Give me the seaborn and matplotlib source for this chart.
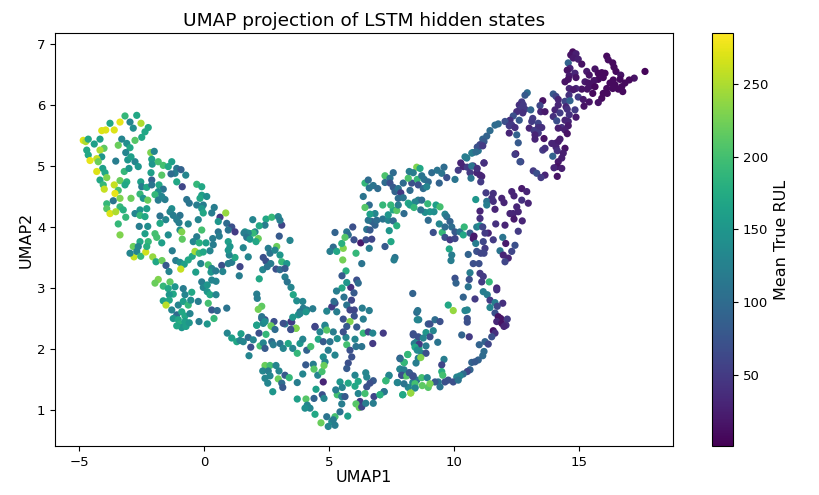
# UMAP projection of the LSTM hidden states
import pandas as pd
import numpy as np
import matplotlib
matplotlib.use("Agg")
import matplotlib.pyplot as plt
import seaborn as sns

# each row: UMAP1, UMAP2, mean true RUL
left_arm = [
    (-4.83,5.42,270),(-4.73,5.40,250),(-4.63,5.44,170),(-4.39,5.36,160),(-4.16,5.44,160),(-4.09,5.58,270),(-3.93,5.59,270),(-3.59,5.59,270),
    (-3.76,5.70,170),(-3.36,5.72,275),(-3.16,5.82,190),(-2.69,5.83,170),(-2.96,5.72,130),(-2.52,5.70,250),(-2.23,5.63,170),(-2.83,5.62,140),
    (-2.36,5.56,170),(-2.49,5.47,170),(-2.76,5.42,210),(-3.29,5.44,130),(-3.09,5.37,140),(-3.43,5.34,220),(-2.96,5.30,170),(-3.13,5.22,130),
    (-4.0,5.29,215),(-4.16,5.26,250),(-4.69,5.26,170),(-4.63,5.18,170),(-4.09,5.15,150),(-4.29,5.12,260),(-4.56,5.09,275),(-4.23,5.07,220),
    (-3.53,5.08,120),(-3.05,5.10,150),(-2.76,5.07,130),(-2.92,5.15,160),(-2.13,5.22,230),(-1.99,5.24,130),(-2.09,5.11,160),(-2.07,5.03,150),
    (-1.83,5.07,200),(-1.63,5.01,200),(-1.29,5.07,160),(-1.43,4.99,170),(-1.09,4.96,110),(-0.92,4.94,90),(-1.16,4.88,120),(-1.32,4.87,100),
    (-2.63,4.99,150),(-4.05,4.96,160),(-4.29,4.91,270),(-3.96,4.89,170),(-3.19,4.91,190),(-3.0,4.96,150),(-2.12,4.89,160),(-1.69,4.85,210),
    (-2.09,4.77,90),(-1.09,4.74,170),(-0.73,4.85,130),(-4.16,4.77,170),(-3.89,4.81,230),(-4.03,4.69,190),(-3.36,4.76,220),(-3.09,4.74,180),
    (-3.16,4.69,170),(-2.53,4.74,160),(-2.49,4.66,120),(-2.29,4.65,170),(-2.09,4.69,110),(-1.80,4.69,170),(-1.63,4.62,110),(-0.87,4.66,60),
    (-0.29,4.70,190),(-0.09,4.66,170),(-3.99,4.62,260),(-3.59,4.69,260),(-3.43,4.60,200),(-3.56,4.55,275),(-1.83,4.58,140),(-1.96,4.53,190),
    (-2.56,4.54,190),(-2.43,4.47,150),(-2.25,4.44,220),(-0.09,4.52,160),(-0.16,4.47,170),(0.11,4.50,140),(-3.36,4.47,230),(-2.92,4.47,220),
    (-3.63,4.43,110),(-3.89,4.38,190),(-3.36,4.33,190),(-3.23,4.28,180),(-3.89,4.30,210),(-3.76,4.22,270),(-3.53,4.25,250),(-3.13,4.16,190),
    (-1.56,4.45,120),(-1.83,4.44,120),(-1.69,4.50,130),(-0.69,4.45,110),(-0.59,4.39,110),(-0.29,4.36,120),(-0.03,4.36,120),(0.41,4.32,120),
    (-0.09,4.30,150),(-1.29,4.30,140),(-1.36,4.25,130),(-1.23,4.19,120),(-2.29,4.30,160),(-2.56,4.28,150),(-2.76,4.22,130),(-2.56,4.19,190),
    (-2.36,4.17,170),(-1.76,4.18,110),(-1.53,4.12,130),(-0.96,4.19,110),(-1.09,4.12,120),(-1.0,4.07,120),(-0.03,4.23,170),(0.31,4.23,120),
    (0.64,4.16,50),(0.87,4.23,240),(-0.23,4.12,130),(-3.43,4.05,190),(-2.59,4.01,120),(-2.25,4.01,140),(-1.76,4.06,170),(-0.63,4.05,130),
    (-0.96,3.95,140),(-0.09,3.95,200),(0.57,4.09,150),(0.91,4.06,100),(1.11,4.0,70),(0.97,3.95,110),(1.24,3.92,50),(1.64,3.92,150),
    (-3.36,3.87,230),(-2.36,3.89,160),(-1.96,3.89,200),(-1.43,3.87,140),(-0.29,3.84,120),(0.57,3.92,110),(1.84,3.89,120),(2.04,3.92,130),
]

lower_left = [
    (2.48,4.13,170),(2.71,4.16,190),(2.97,4.17,130),(3.11,4.03,60),(3.04,4.11,120),(2.44,4.03,120),(2.21,4.02,170),(2.17,3.81,220),
    (1.97,3.90,190),(1.95,4.12,130),(3.01,3.85,80),(1.77,3.90,130),(1.60,3.90,120),(1.71,3.83,110),(1.84,3.80,150),(2.08,3.76,170),
    (0.97,3.76,160),(1.04,3.68,150),(1.57,3.66,130),(0.61,3.85,120),(0.35,3.81,120),(0.37,3.71,120),(0.08,3.74,160),(-0.43,3.76,130),
    (-0.19,3.74,180),(-0.89,3.92,230),(-0.87,3.80,215),(-1.69,3.74,160),(-2.56,3.76,170),(-2.23,3.76,190),(-1.89,3.83,200),
    (-2.83,3.68,220),(-2.63,3.68,130),(-2.80,3.51,260),(-2.96,3.57,130),(-2.69,3.60,130),(-2.53,3.52,190),(-2.33,3.59,265),(-2.29,3.68,180),
    (-2.05,3.51,240),(-1.92,3.43,170),(-1.68,3.45,220),(-1.52,3.37,80),(-1.27,3.61,120),(-1.13,3.45,120),(-0.96,3.42,140),(-0.79,3.39,160),
    (-0.63,3.46,170),(-0.47,3.52,170),(-0.36,3.60,245),(-0.19,3.57,190),(-0.03,3.59,170),(0.24,3.61,130),(-0.93,3.31,260),(-1.40,3.27,130),
    (-0.33,3.26,160),(-0.13,3.40,130),(0.17,3.38,200),(0.31,3.32,130),(0.28,3.26,150),(0.47,3.28,120),(0.71,3.37,70),(0.75,3.27,130),
    (0.97,3.40,120),(1.11,3.42,120),(1.24,3.50,170),(1.01,3.54,130),(0.97,3.62,150),(1.44,3.35,60),(1.41,3.20,120),(1.77,3.51,130),
    (2.37,3.50,70),(2.57,3.65,120),(2.64,3.57,110),(2.91,3.68,220),(2.84,3.62,130),(3.04,3.54,150),(3.11,3.43,190),(3.31,3.40,150),
    (2.48,3.44,70),(2.67,3.40,120),(2.35,3.30,130),(2.53,3.35,110),(2.88,3.31,70),(3.04,3.30,100),(3.24,3.32,80),(3.44,3.78,130),
    (2.21,3.15,170),(3.24,3.18,120),(3.33,3.10,110),(3.48,3.01,130),(3.57,2.89,170),(3.71,2.79,140),(3.95,2.78,130),(3.97,2.67,120),
    (3.84,2.61,110),(4.11,2.64,120),(4.35,2.66,120),(3.77,2.56,150),(2.11,2.90,120),(2.13,2.83,120),(2.31,2.70,215),(2.17,2.65,225),
    (2.31,2.50,90),(2.44,2.48,70),(2.11,2.39,160),(2.37,2.42,130),(2.71,2.37,230),(2.80,2.45,70),(3.24,2.41,120),(3.51,2.44,70),
    (3.48,2.32,70),(3.68,2.34,220),(4.44,2.36,60),(4.84,2.37,140),(0.91,2.67,110),(0.17,2.75,200),(0.31,2.64,80),(0.53,2.63,100),
    (0.40,2.50,190),(0.13,2.41,150),(-0.20,2.45,120),(-0.09,3.10,120),(-0.03,3.01,130),(0.13,3.05,150),(0.13,2.94,150),(0.31,3.13,130),
    (0.48,3.11,130),(0.24,2.89,170),(0.48,2.89,130),(-1.36,3.10,215),(-1.16,3.02,150),(-1.83,3.14,230),(-1.96,3.08,220),(-1.63,3.03,190),
    (-1.43,2.99,170),(-0.83,2.99,120),(-0.49,2.93,170),(-1.23,2.90,170),(-0.76,2.89,130),(-1.39,2.89,150),(-1.63,2.79,160),(-1.39,2.80,170),
    (-1.52,2.72,255),(-1.03,2.72,130),(-0.83,2.78,160),(-0.63,2.72,190),(-0.53,2.80,140),(-0.23,2.78,120),(-1.29,2.64,130),(-1.09,2.56,100),
    (-0.89,2.61,170),(-1.23,2.50,150),(-1.03,2.48,170),(-0.76,2.54,170),(-0.56,2.58,130),(-0.96,2.41,180),(-0.76,2.45,160),(-0.89,2.35,150),
    (-0.72,2.37,160),(-1.09,2.38,170),(-0.59,2.43,150),
]

bottom_band = [
    (2.31,2.53,110),(2.44,2.45,140),(2.11,2.39,160),(2.68,2.38,220),(2.84,2.32,100),(3.17,2.42,70),(3.48,2.45,50),(3.68,2.34,230),
    (3.47,2.32,70),(3.84,2.58,130),(4.08,2.61,150),(3.55,2.52,150),(4.44,2.37,60),(4.84,2.39,130),(4.64,2.28,130),(5.17,2.28,120),
    (4.91,2.31,210),(0.93,2.26,130),(1.11,2.18,160),(1.31,2.12,170),(1.48,2.25,160),(1.44,2.14,130),(1.57,2.12,130),(1.77,2.19,100),
    (1.97,2.15,130),(2.20,2.26,70),(2.48,2.24,190),(1.87,2.03,70),(1.80,1.89,130),(2.24,2.05,200),(2.37,2.10,130),(2.44,2.01,80),
    (2.71,2.12,100),(2.77,2.07,120),(3.04,2.09,110),(3.17,2.01,130),(3.37,2.09,170),(3.55,2.01,130),(3.73,1.93,190),(3.84,2.09,150),
    (3.95,2.16,130),(4.11,1.98,90),(4.27,2.04,200),(4.57,2.16,170),(4.77,2.12,80),(4.97,1.98,120),(4.77,1.87,140),(4.84,1.79,130),
    (5.24,1.90,130),(5.04,2.12,110),(5.33,2.17,140),(5.68,2.19,130),(5.71,2.07,200),(5.84,1.98,70),(6.04,2.16,130),(6.08,2.04,110),
    (6.31,2.04,110),(5.91,1.87,70),(5.77,1.77,70),(5.71,1.68,80),(6.37,2.26,190),(6.57,2.28,60),(6.75,2.26,130),(6.75,2.09,50),
    (7.17,2.26,50),(2.44,1.73,220),(2.64,1.73,200),(2.88,1.73,130),(2.35,1.64,130),(2.57,1.64,120),(3.0,1.64,130),(3.24,1.57,80),
    (2.64,1.56,130),(2.44,1.52,130),(2.55,1.44,130),(2.97,1.51,220),(3.41,1.53,190),(3.11,1.44,100),(3.15,1.37,80),(2.75,1.30,150),
    (3.73,1.45,120),(4.07,1.74,80),(4.37,1.75,120),(4.40,1.67,210),(3.95,1.59,130),(4.55,1.57,130),(4.72,1.63,200),(4.80,1.73,220),
    (4.77,1.46,30),(4.48,1.34,160),(3.73,1.18,160),(4.08,1.18,210),(4.40,1.19,90),(4.73,1.25,70),(4.80,1.19,130),(4.13,1.08,130),
    (4.24,1.03,130),(4.04,1.03,140),(4.44,0.93,170),(4.68,0.79,220),(4.91,0.89,110),(5.24,0.89,200),(5.11,0.81,140),(4.97,0.73,130),
    (5.24,0.75,120),(5.17,0.84,120),(5.75,0.90,160),(5.33,1.25,200),(5.51,1.10,120),(5.44,0.97,110),(5.51,1.22,130),(5.27,1.33,120),
    (5.44,1.46,150),(5.53,1.37,130),(5.64,1.22,80),(5.77,1.44,170),(6.04,1.57,130),(6.04,1.39,170),(6.17,1.47,170),(6.47,1.61,130),
    (6.51,1.54,130),(6.77,1.48,80),(6.64,1.44,70),(6.51,1.38,70),(6.17,1.27,130),(6.44,1.27,200),(6.80,1.22,60),(7.04,1.25,180),
    (7.21,1.30,130),(7.27,1.48,200),(7.40,1.56,130),(6.24,1.14,50),(6.08,1.10,210),(6.21,1.04,220),(6.31,1.05,60),(6.47,1.11,120),
    (6.77,1.11,120),(7.75,1.45,120),(7.95,1.25,180),(8.27,1.28,240),(8.44,1.37,130),(8.17,1.37,130),(8.35,1.45,130),(8.51,1.49,110),
    (7.84,1.85,70),(8.01,1.78,170),(8.15,1.91,190),(7.84,1.67,120),(7.91,1.57,70),(8.04,1.56,210),(8.21,1.61,70),(8.37,1.56,70),
    (8.57,1.85,120),(8.51,2.12,150),(8.37,2.25,70),(8.51,2.60,100),(8.59,2.48,120),(8.60,2.01,170),(5.24,2.75,70),(5.11,2.69,50),
    (5.31,2.61,120),(5.71,2.72,110),(5.84,2.64,60),(6.01,2.64,60),(6.01,2.54,70),(5.57,2.49,70),(5.84,2.45,230),(6.37,2.49,120),
    (6.61,2.63,120),(6.33,2.67,120),(5.71,2.37,80),(5.57,2.28,70),(6.11,2.36,80),(4.91,2.62,130),
]

middle_arch = [
    (5.24,3.91,90),(5.71,3.92,110),(5.77,3.87,100),(5.95,4.0,70),(5.17,3.67,100),(5.04,3.60,120),(5.31,3.60,170),(5.57,3.65,230),
    (5.51,3.73,180),(5.64,3.83,210),(6.0,3.79,70),(6.27,3.74,20),(6.48,3.79,70),(6.71,3.80,60),(6.61,3.65,120),(6.08,3.57,190),
    (5.55,3.46,225),(5.68,3.28,180),(5.52,3.20,80),(6.31,3.40,110),(7.24,3.68,80),(7.64,3.50,110),(7.60,3.46,120),(7.48,3.76,170),
    (6.51,3.96,110),(6.84,4.03,90),(6.64,3.95,80),(6.71,4.09,90),(6.91,4.11,100),(6.57,4.11,110),(7.15,4.13,110),(7.37,4.11,130),
    (7.57,4.10,100),(7.41,3.94,150),(7.71,4.02,180),(7.37,4.20,150),(7.57,4.28,170),(7.71,4.27,210),(7.77,4.36,120),(8.0,4.22,100),
    (6.84,4.22,130),(6.64,4.21,160),(6.61,4.36,100),(7.15,4.36,190),(6.44,4.32,210),(7.47,4.36,190),(6.37,4.50,110),(6.44,4.72,190),
    (6.57,4.77,100),(6.61,4.64,110),(6.77,4.68,110),(6.95,4.63,100),(7.24,4.84,205),(7.57,4.89,100),(7.44,4.80,110),(7.24,4.73,100),
    (7.44,4.72,70),(7.57,4.65,80),(7.64,4.58,90),(7.77,4.63,110),(7.87,4.56,50),(7.97,4.72,100),(7.77,4.47,100),(7.97,4.48,110),
    (8.24,4.60,100),(8.31,4.72,70),(8.17,4.80,205),(8.21,4.91,120),(8.51,4.98,230),(8.64,4.96,170),(8.37,4.89,120),(8.53,4.78,190),
    (8.71,4.84,110),(8.81,4.78,110),(8.57,4.69,70),(8.77,4.63,100),(8.97,4.74,100),(9.11,4.89,100),(9.33,4.93,110),(9.60,4.98,100),
    (9.51,4.88,110),(9.71,4.81,70),(10.04,4.78,110),(9.41,4.72,90),(8.91,4.66,130),(8.57,4.44,120),(8.71,4.44,100),(8.44,4.41,130),
    (8.17,4.39,170),(8.24,4.36,160),(8.40,4.32,190),(8.95,4.38,190),(9.28,4.36,160),(9.44,4.33,200),(9.04,4.25,150),(9.20,4.25,140),
    (8.84,4.24,140),(8.67,4.28,110),(8.97,4.11,100),(9.64,4.21,130),(9.71,4.17,110),(9.41,4.05,130),(9.17,3.91,70),(9.53,3.91,190),
    (9.64,4.0,100),(9.84,4.09,90),(9.91,4.0,100),(10.04,3.92,80),(9.64,3.83,70),(9.84,3.79,50),(10.04,3.81,60),(10.24,3.92,110),
    (10.37,3.87,170),(10.41,4.0,190),(10.64,3.90,80),(10.80,3.85,20),(10.77,3.81,20),(10.91,4.0,120),(11.04,4.02,140),(11.15,4.0,60),
    (11.37,3.90,30),(11.24,3.90,50),(11.57,3.79,50),(11.95,3.83,110),(10.87,3.73,120),(11.17,3.76,60),(12.07,3.73,20),(9.81,3.64,170),
    (9.91,3.54,120),(9.88,3.45,120),(10.57,3.55,90),(10.91,3.60,70),(11.24,3.65,50),(11.07,3.57,60),(11.2,3.57,60),(11.84,3.61,110),
    (12.31,3.60,60),(12.44,3.70,70),(12.57,3.93,50),(11.97,3.54,30),(12.17,3.49,30),(12.04,3.43,60),(10.77,3.40,70),(11.0,3.40,70),
    (10.64,3.25,120),(11.04,3.24,50),(11.17,3.19,50),(10.04,3.16,70),(10.08,3.08,90),(11.41,3.10,190),(10.57,3.02,110),(11.71,3.0,30),
    (11.11,3.10,50),(10.17,4.93,50),(10.27,5.05,30),(10.37,4.99,30),(10.51,5.13,120),(10.44,5.15,120),(10.75,5.22,120),(10.97,5.25,110),
    (10.53,4.98,50),(10.77,5.0,40),(11.2,5.05,30),(10.64,4.89,50),(10.91,4.89,30),(11.11,4.83,30),(11.07,4.74,50),(10.68,4.80,110),
    (10.87,4.45,150),(11.28,4.56,50),(11.57,4.55,40),(11.51,4.47,40),(11.31,4.42,110),(11.31,4.36,120),(11.57,4.42,40),(11.91,4.47,30),
    (12.0,4.40,30),(12.31,4.58,30),(12.40,4.51,30),(12.71,4.63,20),(12.71,4.44,40),(12.91,4.58,30),(12.97,4.39,30),(12.51,4.33,30),
    (12.57,4.25,30),(12.37,4.22,30),(12.24,4.22,30),(11.64,4.29,30),(11.04,4.26,30),(11.04,4.14,40),(11.67,4.05,40),(12.04,4.03,30),
    (12.40,4.13,20),(12.73,4.10,30),(12.47,5.20,15),(12.67,5.07,50),(6.11,3.13,70),(5.87,3.01,40),(5.52,3.0,170),(5.71,3.09,150),
    (6.17,3.08,100),(5.3,2.95,120),(5.6,2.85,110),(5.2,2.78,100),(5.9,2.80,60),(6.0,2.92,80),
]

right_loop = [
    (10.61,3.14,70),(11.71,2.97,40),(8.35,2.91,90),(11.17,2.94,120),(11.33,2.89,120),(10.37,2.85,90),(10.84,2.82,50),(11.44,2.80,50),
    (11.64,2.76,120),(11.95,2.75,40),(11.73,2.70,60),(9.77,2.72,170),(9.97,2.63,240),(10.53,2.64,130),(10.44,2.63,130),(11.44,2.68,130),
    (8.55,2.63,110),(11.64,2.59,70),(11.77,2.53,15),(11.87,2.50,15),(12.13,2.49,50),(11.71,2.45,30),(11.91,2.42,15),(12.08,2.39,40),
    (12.0,2.37,30),(8.53,2.48,130),(10.53,2.50,70),(10.53,2.44,70),(8.97,2.41,80),(9.04,2.41,70),(9.24,2.48,100),(9.44,2.45,70),
    (9.17,2.30,130),(8.88,2.27,150),(11.57,2.30,15),(11.64,2.26,40),(11.51,2.20,70),(10.31,2.23,90),(10.61,2.20,50),(9.04,2.20,70),
    (8.37,2.23,70),(8.57,2.20,70),(8.77,2.18,130),(9.35,2.11,110),(8.41,2.09,120),(8.61,2.08,50),(8.44,2.03,170),(8.53,1.98,140),
    (8.88,2.05,120),(8.71,1.93,130),(8.88,1.93,70),(8.67,1.86,230),(11.24,2.12,90),(11.37,2.08,60),(11.01,2.07,90),(11.20,1.96,100),
    (11.15,1.89,100),(10.97,1.82,90),(10.71,1.78,90),(10.84,1.79,80),(8.15,1.91,190),(8.0,1.78,190),(7.84,1.84,100),(8.48,1.77,120),
    (9.60,1.83,120),(9.51,1.74,60),(9.51,1.63,180),(9.55,1.57,200),(10.64,1.66,90),(10.53,1.63,60),(10.37,1.59,100),(10.24,1.56,130),
    (10.11,1.54,130),(9.97,1.46,70),(9.77,1.49,70),(9.64,1.46,70),(9.37,1.46,110),(9.24,1.46,80),(9.44,1.38,110),(10.17,1.49,110),
    (7.84,1.67,130),(8.0,1.66,120),(7.40,1.57,130),(7.91,1.57,70),(8.11,1.56,210),(8.21,1.61,80),(8.35,1.55,70),(8.71,1.53,200),
    (8.93,1.53,130),(7.28,1.48,190),(7.73,1.45,130),(8.0,1.43,110),(8.73,1.40,215),(8.97,1.37,210),(9.04,1.43,225),(8.44,1.43,200),
    (8.44,1.36,130),(8.27,1.28,240),(7.95,1.25,170),(7.2,1.30,110),(7.04,1.25,180),
]

top_right = [
    (14.75,6.87,10),(14.67,6.82,15),(14.88,6.84,25),(14.77,6.77,20),(14.97,6.75,25),(15.11,6.67,15),(14.57,6.69,90),(14.64,6.60,30),
    (14.53,6.57,15),(14.61,6.48,20),(14.84,6.52,30),(14.88,6.45,15),(14.44,6.38,15),(14.57,6.42,15),(16.11,6.80,8),(16.17,6.74,10),
    (16.35,6.69,8),(16.40,6.62,8),(16.48,6.55,8),(16.67,6.49,15),(16.64,6.42,8),(17.64,6.55,5),(17.21,6.44,15),(17.01,6.41,8),
    (16.84,6.36,8),(16.71,6.30,8),(16.75,6.22,8),(16.57,6.26,8),(16.37,6.41,8),(16.24,6.36,8),(16.44,6.33,8),(16.35,6.27,8),
    (16.11,6.27,8),(15.97,6.19,8),(15.91,6.11,8),(15.77,6.04,15),(16.13,6.19,8),(15.64,6.59,15),(15.77,6.52,8),(15.91,6.53,8),
    (16.04,6.52,8),(15.97,6.45,8),(15.77,6.42,8),(15.31,6.55,20),(15.41,6.49,15),(15.24,6.38,20),(15.60,6.40,15),(15.47,6.31,15),
    (15.37,6.36,15),(15.64,6.30,8),(15.55,6.19,8),(15.33,6.26,15),(15.11,6.26,15),(14.88,6.27,30),(14.61,6.27,30),(14.77,6.25,20),
    (14.60,6.16,40),(14.97,6.13,50),(15.17,6.09,20),(15.41,6.05,15),(15.20,5.98,15),(13.97,6.18,80),(14.08,6.14,60),(14.17,6.09,30),
    (14.44,6.06,60),(14.64,6.07,90),(13.55,6.07,15),(14.17,6.0,30),(14.48,5.97,30),(14.53,5.93,40),(13.44,5.99,60),(14.84,5.92,50),
    (13.47,5.89,30),(13.64,5.89,20),(14.04,5.92,30),(14.24,5.87,50),(14.61,5.84,40),(14.88,5.80,20),(14.44,5.75,30),(14.57,5.73,30),
    (13.15,5.78,50),(13.97,5.81,40),(14.11,5.74,70),(14.31,5.63,40),(14.17,5.62,25),(14.57,5.66,20),(14.44,5.59,25),(14.53,5.53,15),
    (13.11,5.73,50),(13.37,5.70,60),(13.01,5.62,30),(13.37,5.63,40),(13.20,5.58,50),(13.51,5.63,40),(13.37,5.54,50),(13.24,5.51,30),
    (13.24,5.44,30),(13.60,5.45,15),(14.04,5.37,30),(14.24,5.44,25),(14.17,5.40,25),(13.91,5.37,30),(14.08,5.31,30),(14.13,5.25,40),
    (14.44,5.29,15),(13.55,5.26,50),(13.64,5.29,40),(12.44,5.19,50),(12.64,5.07,70),(13.95,5.16,90),(14.37,5.21,25),(14.31,5.13,25),
    (14.17,5.07,20),(14.13,4.99,15),(14.0,4.97,30),(14.31,4.96,25),(13.17,4.92,50),(13.31,4.88,70),(13.64,4.85,30),(14.13,4.83,15),
    (13.48,4.81,50),(12.93,6.20,100),(12.84,6.16,80),(12.71,6.05,50),(12.61,6.0,40),(12.77,6.0,50),(12.64,5.93,50),(12.84,5.93,50),
    (12.51,5.89,40),(12.75,5.87,40),(13.07,5.92,90),(12.37,5.82,70),(12.61,5.75,80),(12.24,5.75,40),(12.04,5.73,70),(11.77,5.69,100),
    (11.64,5.67,100),(12.21,5.66,50),(12.31,5.67,50),(12.44,5.63,40),(12.21,5.54,30),(12.51,5.51,90),(12.57,5.38,80),(11.44,5.58,100),
    (11.31,5.49,90),(11.15,5.44,90),(11.2,5.40,80),(11.04,5.35,60),(10.93,5.31,70),(11.15,5.33,50),(10.71,5.21,120),(10.88,5.23,100),
    (11.2,5.05,40),(10.71,5.0,110),(10.93,4.96,40),(11.04,4.85,30),
]

x_ticks = [-5, 0, 5, 10, 15]
y_ticks = [1, 2, 3, 4, 5, 6, 7]
cbar_ticks = [50, 100, 150, 200, 250]

rows = left_arm + lower_left + bottom_band + middle_arch + right_loop + top_right
df = pd.DataFrame(rows, columns=["UMAP1", "UMAP2", "rul"])

fig = plt.figure(figsize=(8.2, 4.95), dpi=100)
ax = fig.add_axes([55/820, 1-446/495, 618/820, 413/495])
cax = fig.add_axes([712.5/820, 1-446/495, 20.5/820, 413/495])

norm = plt.Normalize(1, 285)
sns.scatterplot(data=df, x="UMAP1", y="UMAP2", hue="rul", palette="viridis", hue_norm=norm,
                s=27, linewidth=0, legend=False, ax=ax)
ax.set_xlim(-5.96, 18.76)
ax.set_ylim(0.41, 7.18)
ax.set_xticks(x_ticks)
ax.set_yticks(y_ticks)
ax.tick_params(labelsize=9.5)
ax.set_xlabel("UMAP1", fontsize=11.5, labelpad=1)
ax.set_ylabel("UMAP2", fontsize=11.5, labelpad=2)
ax.set_title("UMAP projection of LSTM hidden states", fontsize=13.3, pad=5)

sm = plt.cm.ScalarMappable(norm=norm, cmap="viridis")
cbar = fig.colorbar(sm, cax=cax, ticks=cbar_ticks)
cbar.ax.tick_params(labelsize=9.5)
cbar.set_label("Mean True RUL", fontsize=11.5, labelpad=4)

fig.savefig("out.png", dpi=100)
